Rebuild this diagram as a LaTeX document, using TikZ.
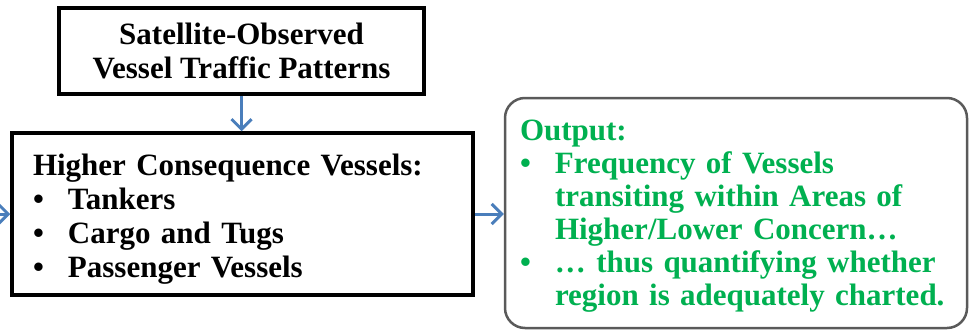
\documentclass[tikz,border=0pt]{standalone}
\usepackage{fontspec}
\setmainfont{Liberation Serif}
\usetikzlibrary{arrows.meta}
\definecolor{flowblue}{HTML}{4A7EBB}
\definecolor{outgreen}{HTML}{00B050}
\definecolor{outgray}{HTML}{5A5A5A}
\newcommand\bul{\makebox[35pt][l]{•}}
\newcommand\cont{\hspace*{35pt}}
\tikzset{
  boxtext/.style={font=\bfseries\fontsize{31}{34}\selectfont},
  blackbox/.style={draw=black, line width=3.5pt, boxtext},
  outbox/.style={draw=outgray, line width=2.5pt, rounded corners=20pt,
    text=outgreen, font=\bfseries\fontsize{31}{33}\selectfont},
  flow/.style={draw=flowblue, line width=3pt,
    -{Straight Barb[length=10pt,width=20pt,line width=3pt]}}
}
\begin{document}
\begin{tikzpicture}[x=1pt,y=-1pt]
\useasboundingbox (0,0) rectangle (971,332);
% source data box
\node[blackbox, minimum width=365pt, minimum height=86pt, align=center]
  (src) at (241.5,51) {Satellite-Observed\\Vessel Traffic Patterns};
% vessel categories
\node[blackbox, minimum width=461pt, minimum height=162pt, inner xsep=21pt,
  text width=419pt, align=left]
  (main) at (242.5,214)
  {\rule{0pt}{32pt}Higher Consequence Vessels:\\
   \bul Tankers\\
   \bul Cargo and Tugs\\
   \bul Passenger Vessels};
% resulting product
\node[outbox, minimum width=462pt, minimum height=230pt, inner xsep=15pt,
  text width=432pt, align=left]
  (out) at (736,213)
  {\rule{0pt}{27pt}Output:\\
   \bul Frequency of Vessels\\
   \cont transiting within Areas of\\
   \cont Higher/Lower Concern…\\
   \bul … thus quantifying whether\\
   \cont region is adequately charted.};
% connectors
\coordinate (feed) at (0,214);
\draw[flow] (feed) -- (main.west);
\draw[flow] (src.south) -- (src.south |- main.north);
\draw[flow] (main.east) -- (main.east -| out.west);
\end{tikzpicture}
\end{document}
